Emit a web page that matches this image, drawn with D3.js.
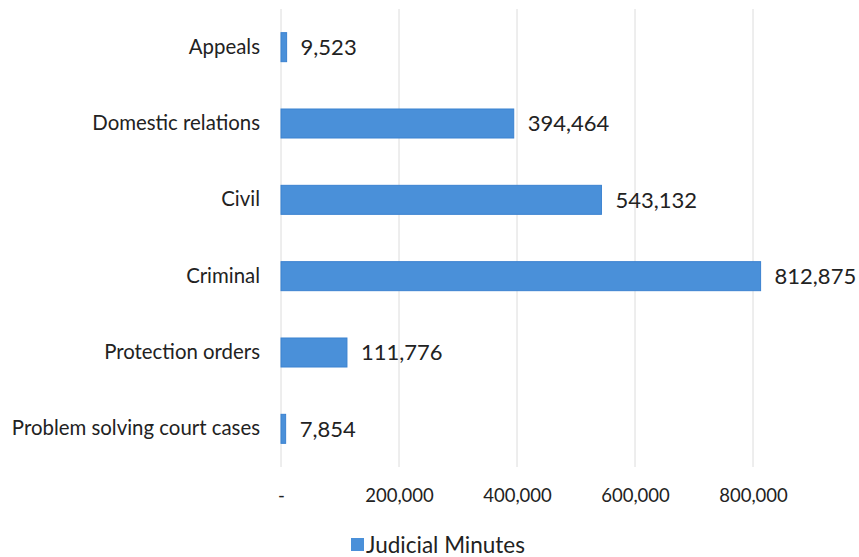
<!DOCTYPE html>
<html><head><meta charset="utf-8">
<script src="https://cdn.jsdelivr.net/npm/d3@7"></script>
<style>body{margin:0;background:#fff}svg{display:block}</style>
</head><body>
<script>
const categories = ["Appeals","Domestic relations","Civil","Criminal","Protection orders","Problem solving court cases"];
const values = [9523,394464,543132,812875,111776,7854];
const tickValues = [0,200000,400000,600000,800000];
const tickLabels = ["-","200,000","400,000","600,000","800,000"];
const seriesName = "Judicial Minutes";

const W=859,H=557;
const svg=d3.select("body").append("svg").attr("width",W).attr("height",H);
const font="Lato, 'Open Sans', sans-serif";
const x=d3.scaleLinear().domain([0,800000]).range([281,753]);
const y=d3.scaleBand().domain(categories).range([9,467]).paddingInner(0.62).paddingOuter(0.31);

// gridlines
svg.append("g").selectAll("line").data(tickValues).join("line")
  .attr("x1",d=>x(d)).attr("x2",d=>x(d)).attr("y1",9).attr("y2",467)
  .attr("stroke","#dcdcdc").attr("stroke-width",1);

// x axis labels
const xa=svg.append("g").attr("transform","translate(0,496)")
  .call(d3.axisBottom(x).tickValues(tickValues).tickFormat((d,i)=>tickLabels[i]).tickSize(0).tickPadding(0));
xa.select(".domain").remove();
xa.selectAll("text").attr("font-family",font).attr("font-size",18.5).attr("fill","#222").attr("dy","0.35em");

// y axis labels
const ya=svg.append("g").attr("transform","translate(260,0)")
  .call(d3.axisLeft(y).tickSize(0).tickPadding(0));
ya.select(".domain").remove();
ya.selectAll("text").attr("font-family",font).attr("font-size",20.4).attr("fill","#222");

// bars
svg.append("g").selectAll("rect").data(values).join("rect")
  .attr("x",x(0)).attr("y",(d,i)=>y(categories[i]))
  .attr("width",d=>Math.max(x(d)-x(0),3.5)).attr("height",y.bandwidth())
  .attr("fill","#4a90d9").attr("stroke","#3b82d0").attr("stroke-width",1);

// value labels
svg.append("g").selectAll("text").data(values).join("text")
  .attr("x",d=>Math.max(x(d),x(0)+4)+14).attr("y",(d,i)=>y(categories[i])+y.bandwidth()/2)
  .attr("dy","0.35em").attr("font-family",font).attr("font-size",22).attr("fill","#222")
  .text(d=>d3.format(",")(d));

// legend
const lg=svg.append("g");
lg.append("rect").attr("x",351).attr("y",538).attr("width",13).attr("height",13).attr("fill","#4a90d9");
lg.append("text").attr("x",366).attr("y",545).attr("dy","0.35em").attr("font-family",font)
  .attr("font-size",22.5).attr("fill","#222").text(seriesName);
</script>
</body></html>
